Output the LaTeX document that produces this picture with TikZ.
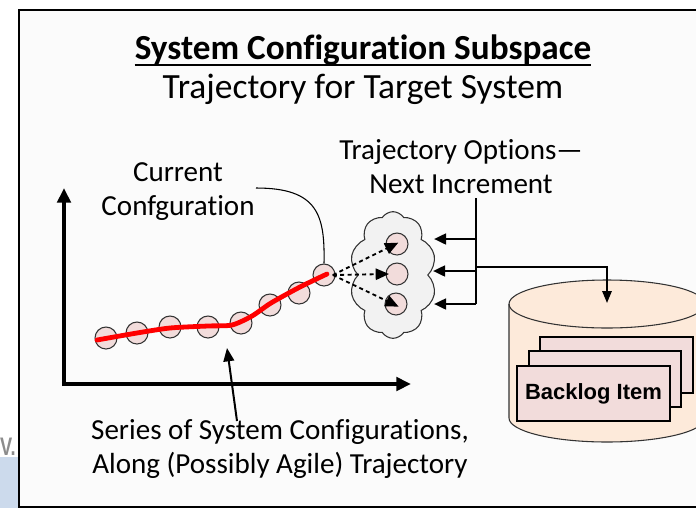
\documentclass[tikz,border=0pt]{standalone}
\usepackage{fontspec}
\setmainfont{Carlito}[Ligatures=NoCommon]
\newfontfamily\arialfont{Liberation Sans}
\usetikzlibrary{arrows.meta,shapes.symbols,calc}
\definecolor{ptfill}{HTML}{F2DCDB}
\definecolor{cloudfill}{HTML}{F2F2F2}
\definecolor{cylfill}{HTML}{FDEADA}
\definecolor{framefill}{HTML}{FBFBFB}
\definecolor{bluebg}{HTML}{CCDAEC}
\begin{document}
\begin{tikzpicture}[x=0.75pt,y=-0.75pt,
  pt/.style={circle,draw=black!80,line width=0.8pt,fill=ptfill,minimum size=16.5pt,inner sep=0pt},
  lbl/.style={font=\fontsize{21.8}{25.5}\selectfont,align=center,inner sep=0pt},
  axis/.style={line width=3.2pt,-{Triangle[length=11pt,width=10pt]}},
  brk/.style={line width=1.9pt},
  brkarrow/.style={line width=1.9pt,-{Triangle[length=9pt,width=8pt]}},
  dasharrow/.style={line width=1.4pt,dash pattern=on 3pt off 2.5pt,-{Triangle[length=10pt,width=8.5pt]}},
  callout/.style={line width=0.8pt}]
\useasboundingbox (0,0) rectangle (696,508);
\begin{scope}
\clip (0,0) rectangle (696,508);
% background behind the frame
\fill[bluebg] (0,457) rectangle (19,508);
\node[anchor=base west,inner sep=0pt,text=black!45,xscale=0.72,font=\arialfont\fontsize{19}{19}\selectfont\bfseries] (bgtxt) at (0,455) {V.};
% frame
\draw[line width=0.9pt,fill=framefill] (19,10) rectangle (720,507);
% titles
\node[anchor=base,inner sep=0pt,font=\fontsize{26.4}{30}\selectfont\bfseries] (title) at (363,59) {System Configuration Subspace};
\draw[line width=1.3pt] ([yshift=-4.5pt]title.base west) -- ([yshift=-4.5pt]title.base east);
\node[anchor=base,inner sep=0pt,font=\fontsize{26.6}{30}\selectfont] (subtitle) at (363,98) {Trajectory for Target System};
% axes
\coordinate (origin) at (64,384);
\coordinate (ytop) at (64,188);
\coordinate (xend) at (411,384);
\draw[axis] ([yshift=-1.6pt]origin) -- (ytop);
\draw[axis] ([xshift=-1.6pt]origin) -- (xend);
% configuration points
\node[pt] (p1) at (106,338) {};
\node[pt] (p2) at (137,333) {};
\node[pt] (p3) at (170,327) {};
\node[pt] (p4) at (208,327) {};
\node[pt] (p5) at (241,323) {};
\node[pt] (p6) at (270,305) {};
\node[pt] (p7) at (299,293) {};
\node[pt] (cur) at (324,275) {};
% red trajectory
\draw[red,line width=3.6pt,line cap=round] plot[smooth,tension=0.45] coordinates {(97,340) (137,333) (170,328) (208,326) (232,325) (252,316) (271,303) (300,287) (327,274)};
% cloud with options
\node[cloud,cloud puffs=10,cloud puff arc=115,aspect=0.68,draw=black!80,line width=0.8pt,fill=cloudfill,minimum width=65pt,minimum height=95pt,inner sep=0pt] (cloud) at (393,275) {};
\node[pt] (o1) at (397,244) {};
\node[pt] (o2) at (397,274) {};
\node[pt] (o3) at (396,304) {};
\draw[dasharrow] ([xshift=-2pt]cur.east) -- ([shift={(1pt,1pt)}]o1.center);
\draw[dasharrow] ([xshift=-2pt]cur.east) -- ([xshift=-6pt]o2.center);
\draw[dasharrow] ([xshift=-2pt]cur.east) -- ([shift={(2pt,-2pt)}]o3.center);
% labels
\node[lbl,anchor=base] (curlbl) at (178,215) {Current\\Confguration};
\node[lbl,anchor=base] (optlbl) at (461,193) {Trajectory Options—\\Next Increment};
\node[lbl,anchor=base] (serlbl) at (280,473) {Series of System Configurations,\\Along (Possibly Agile) Trajectory};
% callout to current configuration
\coordinate (cstart) at (256,188);
\draw[callout] (cstart) .. controls (318,188) and (325,215) .. (cur.north);
% arrow from series label
\coordinate (sstart) at (237,421);
\coordinate (stip) at (227,348);
\draw[line width=1.5pt,-{Triangle[length=10pt,width=8pt]}] (sstart) -- (stip);
% bracket
\coordinate (btop) at (476,198);
\coordinate (bbot) at (476,304);
\coordinate (bmid) at (476,267);
\draw[brk] (btop) -- (bbot);
\draw[brkarrow] (476,239) -- (434,239);
\draw[brkarrow] (476,271) -- (433,271);
\draw[brkarrow] (bbot) -- (434,304);
% cylinder
\fill[cylfill] (509,304) -- (509,418) arc[start angle=180,end angle=360,x radius=73.5pt,y radius=18pt] -- (705,304) arc[start angle=0,end angle=180,x radius=73.5pt,y radius=18pt] -- cycle;
\draw[line width=0.8pt,black!80] (509,304) -- (509,418) arc[start angle=180,end angle=360,x radius=73.5pt,y radius=18pt] -- (705,304);
\draw[line width=0.8pt,black!80] (607,304) ellipse[x radius=73.5pt,y radius=18pt];
\coordinate (cyltop) at (607,303);
\draw[line width=1.5pt,-{Triangle[length=9pt,width=7pt]}] (bmid) -| (cyltop);
% backlog stack
\node[draw,line width=1.4pt,fill=ptfill,minimum width=114.75pt,minimum height=42pt,inner sep=0pt] (b3) at (616.5,365) {};
\node[draw,line width=1.4pt,fill=ptfill,minimum width=114pt,minimum height=42pt,inner sep=0pt] (b2) at (605,379) {};
\node[draw,line width=1.4pt,fill=ptfill,minimum width=114.75pt,minimum height=41.25pt,inner sep=0pt,font=\arialfont\bfseries\fontsize{16.5}{18}\selectfont] (b1) at (593.5,393.5) {Backlog Item};
\end{scope}
\end{tikzpicture}
\end{document}
